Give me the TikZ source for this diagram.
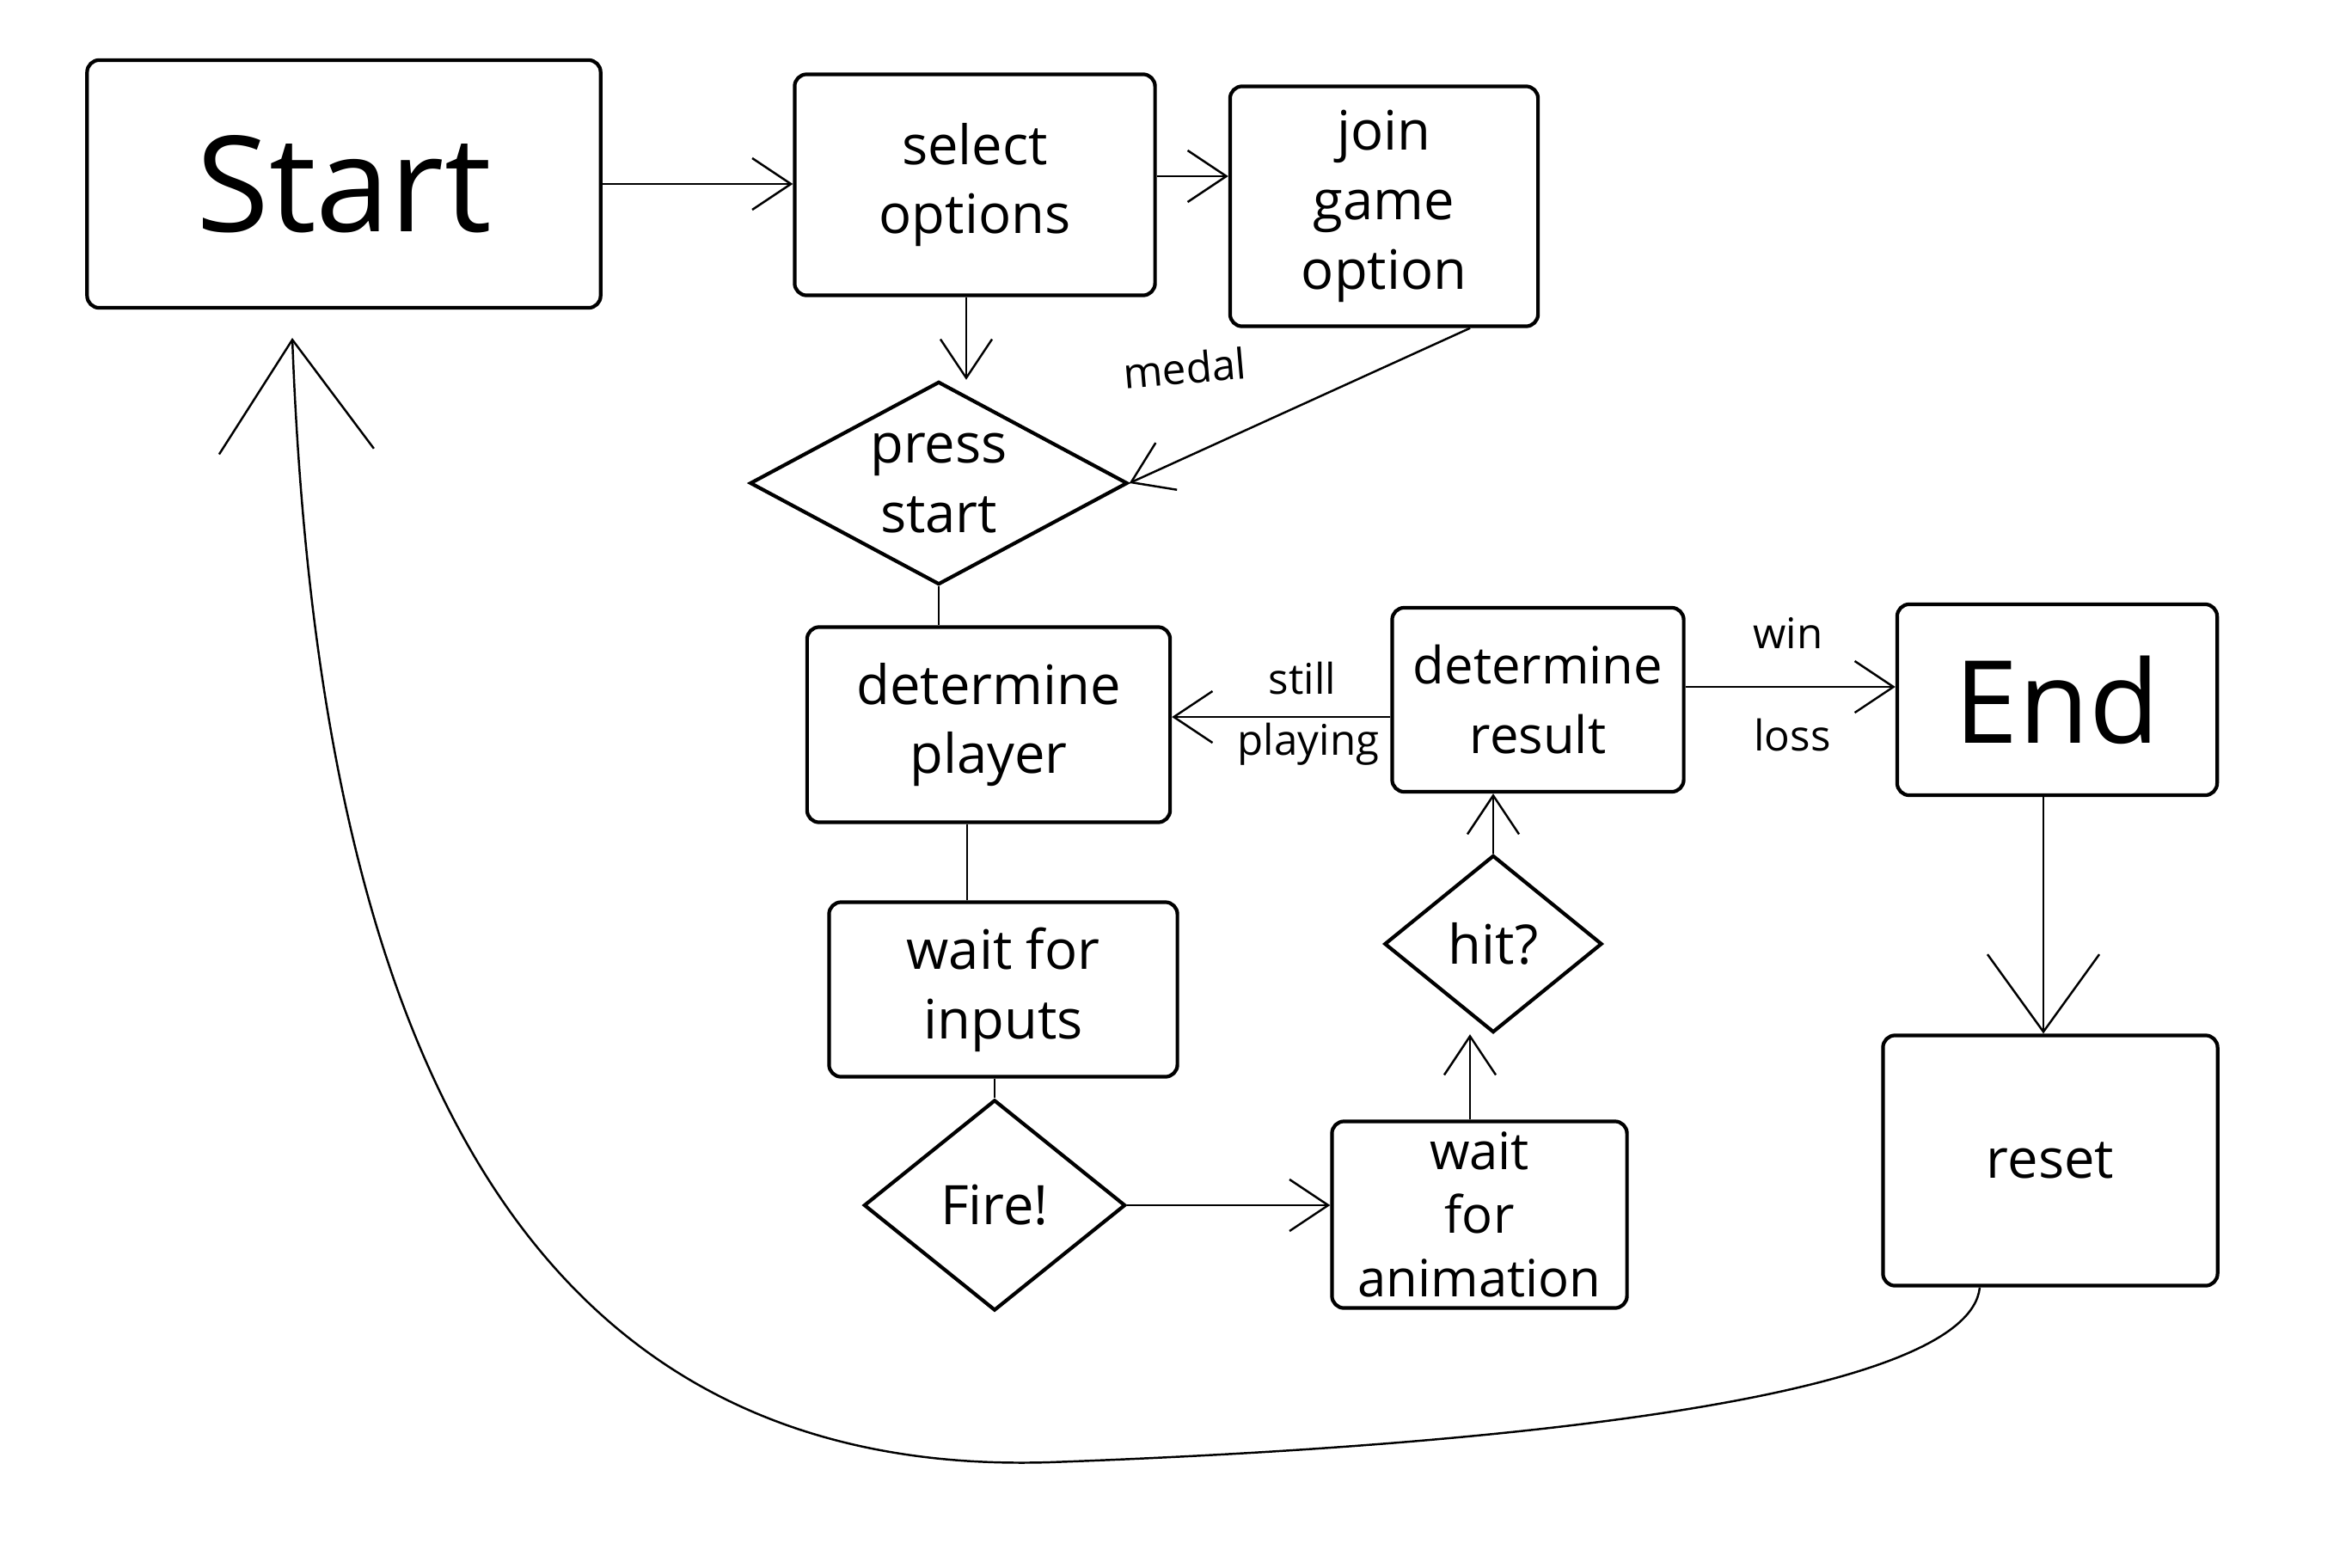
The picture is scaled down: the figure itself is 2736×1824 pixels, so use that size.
\documentclass[tikz,border=0pt]{standalone}
\usepackage{fontspec}
\setmainfont{Open Sans}
\usetikzlibrary{shapes.geometric,arrows.meta,calc}
\begin{document}
\begin{tikzpicture}[x=0.01cm,y=-0.01cm,
  box/.style={draw,line width=1.2pt,rectangle,rounded corners=4pt,align=center,
    font=\fontsize{18}{23}\selectfont,inner sep=2pt},
  dia/.style={draw,line width=1.2pt,diamond,inner sep=0pt},
  txt/.style={align=center,font=\fontsize{18}{23}\selectfont,inner sep=0pt},
  conn/.style={line width=0.7pt},
  arr/.style={conn,-{Straight Barb[length=0.45cm,width=0.6cm]}},
  lbl/.style={font=\fontsize{14}{18}\selectfont,inner sep=1pt}]
\useasboundingbox (0,0) rectangle (2736,1824);
\fill[white] (0,0) rectangle (2736,1824);

% nodes
\node[box,minimum width=5.97cm,minimum height=2.88cm,font=\fontsize{44}{50}\selectfont] (start) at (400,214) {Start};
\node[box,minimum width=4.19cm,minimum height=2.57cm] (select) at (1134,215) {select\\options};
\node[box,minimum width=3.58cm,minimum height=2.79cm] (join) at (1610,240) {join\\game\\option};
\node[dia,minimum width=4.39cm,minimum height=2.36cm] (press) at (1092,562) {};
\node[txt] (presstext) at (press) {press\\start};
\node[box,minimum width=4.22cm,minimum height=2.27cm] (detplayer) at (1150,843) {determine\\player};
\node[box,minimum width=3.39cm,minimum height=2.14cm,font=\fontsize{17}{23}\selectfont] (detresult) at (1789,814) {determine\\result};
\node[box,minimum width=3.72cm,minimum height=2.22cm,font=\fontsize{38}{44}\selectfont] (end) at (2393,814) {End};
\node[box,minimum width=4.05cm,minimum height=2.03cm] (inputs) at (1167,1151) {wait for\\inputs};
\node[dia,minimum width=3.04cm,minimum height=2.45cm] (fire) at (1157,1402) {};
\node[txt] (firetext) at (fire) {Fire!};
\node[box,minimum width=3.43cm,minimum height=2.17cm,font=\fontsize{17}{21}\selectfont] (anim) at (1721,1413) {wait\\for\\animation};
\node[dia,minimum width=2.53cm,minimum height=2.06cm] (hit) at (1737,1098) {};
\node[txt] (hittext) at (hit) {hit?};
\node[box,minimum width=3.89cm,minimum height=2.91cm] (reset) at (2385,1350) {reset};

% labels
\node[lbl,rotate=5] (medal) at (1378,428) {medal};
\node[lbl] (still) at (1515,789) {still};
\node[lbl] (playing) at (1522,866) {playing};
\node[lbl] (win) at (2080,736) {win};
\node[lbl] (loss) at (2085,855) {loss};

% connectors
\draw[arr] (start.east) -- (start.east -| select.west);
\draw[arr] ([yshift=0.1cm]select.east) -- ([yshift=0.1cm]select.east -| join.west);
\draw[arr] ([xshift=-0.1cm]select.south) -- ([xshift=-0.1cm]select.south |- press.north);
\draw[arr] ([xshift=1cm]join.south) -- (press.east);
\draw[conn] (press.south) -- (press.south |- detplayer.north);
\draw[conn] ([xshift=-0.25cm]detplayer.south) -- ([xshift=-0.25cm]detplayer.south |- inputs.north);
\draw[conn] ([xshift=-0.1cm]inputs.south) -- ([xshift=-0.1cm]inputs.south |- fire.north);
\draw[arr] (fire.east) -- (fire.east -| anim.west);
\draw[arr] ([xshift=-0.11cm]anim.north) -- ([xshift=-0.11cm]anim.north |- hit.south);
\draw[arr] (hit.north) -- (hit.north |- detresult.south);
\draw[arr] ([yshift=-0.2cm]detresult.west) -- ([yshift=-0.2cm]detresult.west -| detplayer.east);
\draw[arr] ([yshift=0.15cm]detresult.east) -- ([yshift=0.15cm]detresult.east -| end.west);
\draw[conn,-{Straight Barb[length=0.9cm,width=1.3cm]}] ([xshift=-0.16cm]end.south) -- ([xshift=-0.16cm]end.south |- reset.north);
\coordinate (backtip) at (340,393);
\draw[conn,-{Straight Barb[length=1.3cm,width=1.8cm]}] ([xshift=-0.82cm]reset.south)
  .. controls (2290,1620) and (1800,1680) .. (1221,1701)
  .. controls (600,1720) and (370,1200) .. (backtip);
\end{tikzpicture}
\end{document}
